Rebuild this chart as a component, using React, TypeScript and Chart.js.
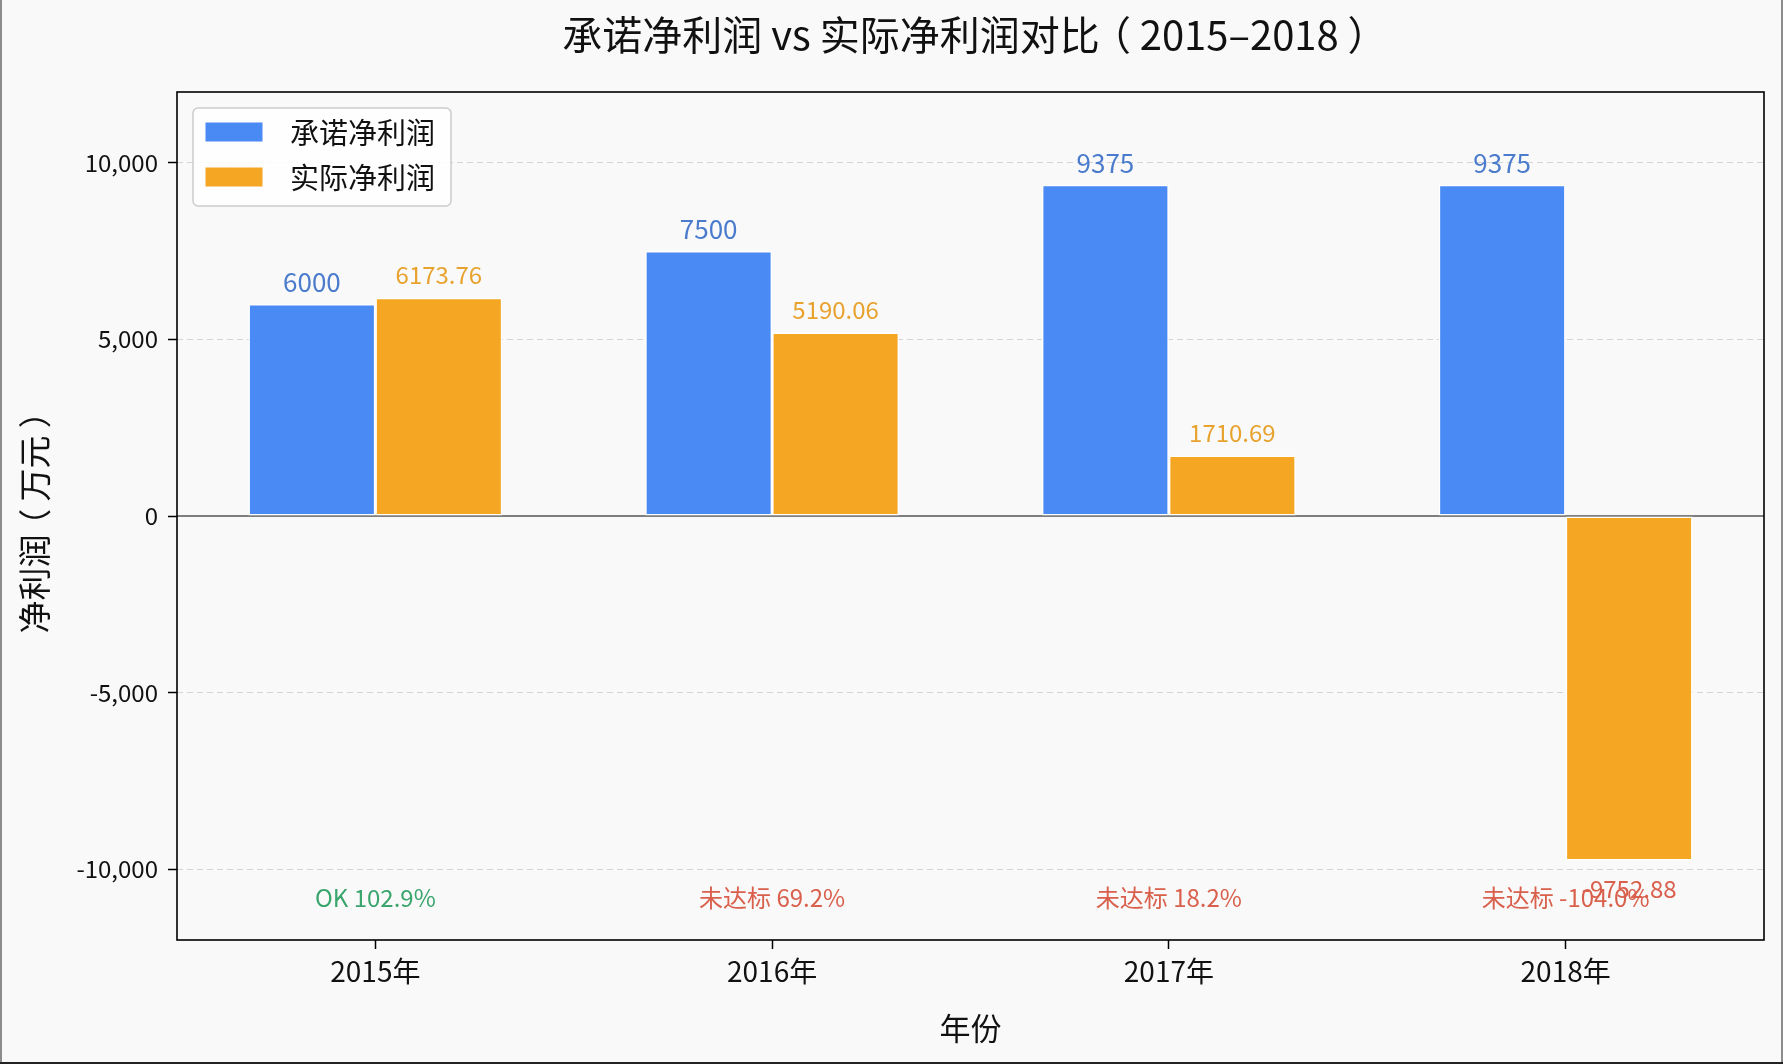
import { useEffect, useRef } from 'react';
import { Chart, registerables } from 'chart.js';

Chart.register(...registerables);

const years = ['2015年', '2016年', '2017年', '2018年'];
const promised = [6000, 7500, 9375, 9375];
const actual = [6173.76, 5190.06, 1710.69, -9752.88];
const statusText = ['OK 102.9%', '未达标 69.2%', '未达标 18.2%', '未达标 -104.0%'];
const statusOk = [true, false, false, false];
const yTicks = [-10000, -5000, 0, 5000, 10000];
const statusY = -10800;

const FONT = '"Noto Sans CJK SC", "Noto Sans", sans-serif';
const BLUE = '#4a8af4';
const ORANGE = '#f5a623';
const BLUE_TEXT = '#4a7bcc';
const ORANGE_TEXT = '#e8a22e';
const GREEN = '#3aa56c';
const RED = '#d9604c';
const BG = '#f9f9f9';

const W = 1783;
const H = 1064;

// draw text centred on cx; full-width brackets get their ink centred in the em box
function drawCentred(ctx: CanvasRenderingContext2D, text: string, cx: number, y: number, size: number) {
  ctx.font = `${size}px ${FONT}`;
  ctx.textAlign = 'left';
  const parts = text.split(/([（）])/).filter((p) => p.length);
  const widths = parts.map((p) => ctx.measureText(p).width);
  let x = cx - widths.reduce((s, w) => s + w, 0) / 2;
  parts.forEach((p, i) => {
    const shift = p === '（' ? -0.22 * size : p === '）' ? 0.22 * size : 0;
    ctx.fillText(p, x + shift, y);
    x += widths[i];
  });
}

const overlay = {
  id: 'overlay',
  beforeDraw(chart: any) {
    const { ctx } = chart;
    ctx.save();
    ctx.fillStyle = BG;
    ctx.fillRect(0, 0, chart.width, chart.height);
    ctx.restore();
  },
  beforeDatasetsDraw(chart: any) {
    const { ctx, chartArea: a, scales } = chart;
    const y0 = scales.y.getPixelForValue(0);
    ctx.save();
    ctx.strokeStyle = '#555';
    ctx.lineWidth = 1.5;
    ctx.beginPath();
    ctx.moveTo(a.left, y0);
    ctx.lineTo(a.right, y0);
    ctx.stroke();
    ctx.restore();
  },
  afterDatasetsDraw(chart: any) {
    const { ctx, scales } = chart;
    ctx.save();
    ctx.textAlign = 'center';
    ctx.textBaseline = 'alphabetic';
    // value labels
    chart.getDatasetMeta(0).data.forEach((el: any, i: number) => {
      ctx.font = `26px ${FONT}`;
      ctx.fillStyle = BLUE_TEXT;
      ctx.fillText(String(promised[i]), el.x, el.y - 12);
    });
    chart.getDatasetMeta(1).data.forEach((el: any, i: number) => {
      const v = actual[i];
      ctx.font = `24px ${FONT}`;
      if (v >= 0) {
        ctx.fillStyle = ORANGE_TEXT;
        ctx.fillText(String(v), el.x, el.y - 14);
      } else {
        ctx.fillStyle = RED;
        ctx.fillText(String(v), el.x, el.y + 37);
      }
    });
    // status texts
    ctx.font = `24px ${FONT}`;
    ctx.textBaseline = 'middle';
    const ys = scales.y.getPixelForValue(statusY);
    years.forEach((_, i) => {
      ctx.fillStyle = statusOk[i] ? GREEN : RED;
      ctx.fillText(statusText[i], scales.x.getPixelForValue(i), ys);
    });
    ctx.restore();
  },
  afterDraw(chart: any) {
    const { ctx, chartArea: a } = chart;
    ctx.save();
    // axes frame
    ctx.strokeStyle = '#000';
    ctx.lineWidth = 1.6;
    ctx.strokeRect(a.left, a.top, a.right - a.left, a.bottom - a.top);

    // legend
    const lx = a.left + 16;
    const ly = a.top + 16;
    const lw = 258;
    const lh = 98;
    ctx.beginPath();
    ctx.roundRect(lx, ly, lw, lh, 5);
    ctx.fillStyle = 'rgba(255,255,255,0.85)';
    ctx.fill();
    ctx.strokeStyle = '#cccccc';
    ctx.lineWidth = 1.5;
    ctx.stroke();
    ctx.font = `29px ${FONT}`;
    ctx.textAlign = 'left';
    ctx.textBaseline = 'middle';
    chart.data.datasets.forEach((ds: any, i: number) => {
      const cy = ly + 24 + i * 45;
      ctx.fillStyle = ds.backgroundColor;
      ctx.fillRect(lx + 12.5, cy - 9.5, 57, 19);
      ctx.fillStyle = '#111';
      ctx.fillText(ds.label, lx + 97, cy + 1);
    });

    // title
    ctx.fillStyle = '#111';
    drawCentred(ctx, '承诺净利润 vs 实际净利润对比（2015–2018）', (a.left + a.right) / 2, 35, 40);

    // axis titles
    ctx.font = `31px ${FONT}`;
    ctx.textAlign = 'center';
    ctx.fillText('年份', (a.left + a.right) / 2, 1028);
    ctx.save();
    ctx.translate(34, (a.top + a.bottom) / 2 + 2);
    ctx.rotate(-Math.PI / 2);
    drawCentred(ctx, '净利润（万元）', 0, 0, 33);
    ctx.restore();

    // outer image frame
    ctx.fillStyle = '#8c8c8c';
    ctx.fillRect(0, 0, 2, chart.height);
    ctx.fillRect(chart.width - 2, 0, 2, chart.height);
    ctx.fillStyle = '#222';
    ctx.fillRect(0, chart.height - 2, chart.width, 2);
    ctx.restore();
  },
};

export default function App() {
  const canvasRef = useRef<HTMLCanvasElement>(null);
  const chartRef = useRef<Chart | null>(null);

  useEffect(() => {
    document.body.style.margin = '0';
    if (!canvasRef.current) return;
    const ctx = canvasRef.current.getContext('2d');
    if (!ctx) return;

    chartRef.current?.destroy();
    chartRef.current = new Chart(ctx, {
      type: 'bar',
      data: {
        labels: years,
        datasets: [
          {
            label: '承诺净利润',
            data: promised,
            backgroundColor: BLUE,
            borderColor: '#ffffff',
            borderWidth: 1.5,
            borderSkipped: false,
            categoryPercentage: 0.64,
            barPercentage: 1,
          },
          {
            label: '实际净利润',
            data: actual,
            backgroundColor: ORANGE,
            borderColor: '#ffffff',
            borderWidth: 1.5,
            borderSkipped: false,
            categoryPercentage: 0.64,
            barPercentage: 1,
          },
        ],
      },
      options: {
        responsive: false,
        animation: false,
        events: [],
        layout: { padding: { top: 92, right: 19, left: 0, bottom: 0 } },
        plugins: {
          legend: { display: false },
          title: { display: false },
          tooltip: { enabled: false },
        },
        scales: {
          x: {
            afterFit: (s: any) => { s.height = 124; },
            grid: {
              offset: false,
              drawOnChartArea: false,
              tickLength: 9,
              tickColor: '#000',
              tickWidth: 1.5,
            },
            border: { display: false },
            ticks: {
              color: '#111',
              font: { family: FONT, size: 28 },
              padding: 6,
              maxRotation: 0,
            },
          },
          y: {
            min: -12000,
            max: 12000,
            afterFit: (s: any) => { s.width = 177; },
            afterBuildTicks: (s: any) => { s.ticks = yTicks.map((v) => ({ value: v })); },
            grid: {
              color: (c: any) => (c.tick && c.tick.value === 0 ? 'rgba(0,0,0,0)' : '#d4d4d4'),
              lineWidth: 1,
              tickLength: 9,
              tickColor: '#000',
              tickWidth: 1.5,
            },
            border: { display: false, dash: [6, 4] },
            ticks: {
              color: '#111',
              font: { family: FONT, size: 24 },
              padding: 10,
              callback: (v: any) => Number(v).toLocaleString('en-US'),
            },
          },
        },
      },
      plugins: [overlay],
    });

    return () => { chartRef.current?.destroy(); };
  }, []);

  return (
    <div style={{ width: W, height: H }}>
      <canvas ref={canvasRef} width={W} height={H} style={{ display: 'block' }} />
    </div>
  );
}
